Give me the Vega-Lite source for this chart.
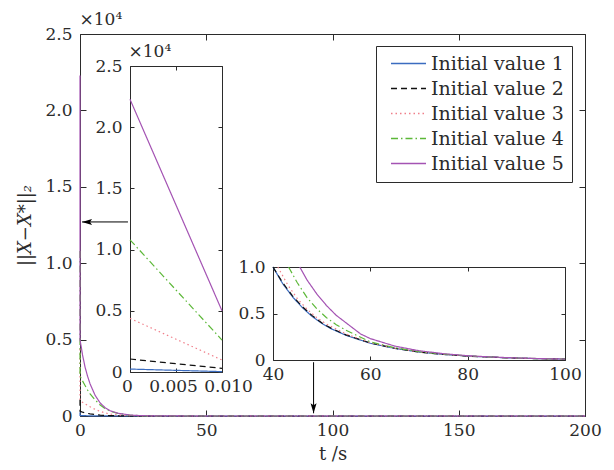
{
  "$schema": "https://vega.github.io/schema/vega-lite/v6.json",
  "width": 505,
  "height": 382,
  "autosize": {"type": "none"},
  "padding": {"left": 80, "top": 34, "right": 29, "bottom": 54},
  "background": "white",
  "config": {
    "view": {"stroke": null},
    "font": "DejaVu Serif",
    "axis": {
      "grid": false,
      "domainColor": "#2b2b2b",
      "tickColor": "#2b2b2b",
      "labelColor": "#2b2b2b",
      "labelFont": "DejaVu Serif",
      "labelFontSize": 17,
      "labelFlush": false,
      "labelOverlap": false,
      "titleFont": "DejaVu Serif",
      "titleFontSize": 18,
      "titleFontWeight": "normal",
      "titleColor": "#2b2b2b",
      "tickWidth": 1,
      "domainWidth": 1
    }
  },
  "datasets": {
    "main": [
      {"series": "Initial value 1", "t": 0, "v": 240}, {"series": "Initial value 1", "t": 0.01, "v": 30}, {"series": "Initial value 1", "t": 1, "v": 25}, {"series": "Initial value 1", "t": 2, "v": 20}, {"series": "Initial value 1", "t": 3, "v": 16}, {"series": "Initial value 1", "t": 4, "v": 13}, {"series": "Initial value 1", "t": 6, "v": 9}, {"series": "Initial value 1", "t": 8, "v": 6}, {"series": "Initial value 1", "t": 10, "v": 4}, {"series": "Initial value 1", "t": 12, "v": 3}, {"series": "Initial value 1", "t": 15, "v": 2}, {"series": "Initial value 1", "t": 20, "v": 1.5}, {"series": "Initial value 1", "t": 25, "v": 1.2}, {"series": "Initial value 1", "t": 30, "v": 1.1}, {"series": "Initial value 1", "t": 40, "v": 1}, {"series": "Initial value 1", "t": 60, "v": 0.2}, {"series": "Initial value 1", "t": 100, "v": 0.01}, {"series": "Initial value 1", "t": 200, "v": 0},
      {"series": "Initial value 2", "t": 0, "v": 1060}, {"series": "Initial value 2", "t": 0.01, "v": 300}, {"series": "Initial value 2", "t": 1, "v": 250}, {"series": "Initial value 2", "t": 2, "v": 205}, {"series": "Initial value 2", "t": 3, "v": 170}, {"series": "Initial value 2", "t": 4, "v": 140}, {"series": "Initial value 2", "t": 6, "v": 95}, {"series": "Initial value 2", "t": 8, "v": 62}, {"series": "Initial value 2", "t": 10, "v": 40}, {"series": "Initial value 2", "t": 12, "v": 26}, {"series": "Initial value 2", "t": 15, "v": 14}, {"series": "Initial value 2", "t": 20, "v": 5}, {"series": "Initial value 2", "t": 25, "v": 2.2}, {"series": "Initial value 2", "t": 30, "v": 1.5}, {"series": "Initial value 2", "t": 40, "v": 1}, {"series": "Initial value 2", "t": 60, "v": 0.2}, {"series": "Initial value 2", "t": 100, "v": 0.01}, {"series": "Initial value 2", "t": 200, "v": 0},
      {"series": "Initial value 3", "t": 0, "v": 4380}, {"series": "Initial value 3", "t": 0.01, "v": 980}, {"series": "Initial value 3", "t": 1, "v": 900}, {"series": "Initial value 3", "t": 2, "v": 800}, {"series": "Initial value 3", "t": 3, "v": 700}, {"series": "Initial value 3", "t": 4, "v": 600}, {"series": "Initial value 3", "t": 6, "v": 430}, {"series": "Initial value 3", "t": 8, "v": 300}, {"series": "Initial value 3", "t": 10, "v": 200}, {"series": "Initial value 3", "t": 12, "v": 130}, {"series": "Initial value 3", "t": 15, "v": 65}, {"series": "Initial value 3", "t": 20, "v": 20}, {"series": "Initial value 3", "t": 25, "v": 6}, {"series": "Initial value 3", "t": 30, "v": 2.5}, {"series": "Initial value 3", "t": 40, "v": 1.05}, {"series": "Initial value 3", "t": 60, "v": 0.2}, {"series": "Initial value 3", "t": 100, "v": 0.01}, {"series": "Initial value 3", "t": 200, "v": 0},
      {"series": "Initial value 4", "t": 0, "v": 10800}, {"series": "Initial value 4", "t": 0.01, "v": 2610}, {"series": "Initial value 4", "t": 1, "v": 2300}, {"series": "Initial value 4", "t": 2, "v": 2000}, {"series": "Initial value 4", "t": 3, "v": 1700}, {"series": "Initial value 4", "t": 4, "v": 1450}, {"series": "Initial value 4", "t": 6, "v": 1050}, {"series": "Initial value 4", "t": 8, "v": 720}, {"series": "Initial value 4", "t": 10, "v": 480}, {"series": "Initial value 4", "t": 12, "v": 320}, {"series": "Initial value 4", "t": 15, "v": 170}, {"series": "Initial value 4", "t": 20, "v": 50}, {"series": "Initial value 4", "t": 25, "v": 15}, {"series": "Initial value 4", "t": 30, "v": 6}, {"series": "Initial value 4", "t": 40, "v": 1.2}, {"series": "Initial value 4", "t": 60, "v": 0.2}, {"series": "Initial value 4", "t": 100, "v": 0.01}, {"series": "Initial value 4", "t": 200, "v": 0},
      {"series": "Initial value 5", "t": 0, "v": 22280}, {"series": "Initial value 5", "t": 0.01, "v": 5000}, {"series": "Initial value 5", "t": 1, "v": 4000}, {"series": "Initial value 5", "t": 2, "v": 3200}, {"series": "Initial value 5", "t": 3, "v": 2600}, {"series": "Initial value 5", "t": 4, "v": 2100}, {"series": "Initial value 5", "t": 6, "v": 1350}, {"series": "Initial value 5", "t": 8, "v": 850}, {"series": "Initial value 5", "t": 10, "v": 540}, {"series": "Initial value 5", "t": 12, "v": 340}, {"series": "Initial value 5", "t": 15, "v": 180}, {"series": "Initial value 5", "t": 20, "v": 60}, {"series": "Initial value 5", "t": 25, "v": 20}, {"series": "Initial value 5", "t": 30, "v": 8}, {"series": "Initial value 5", "t": 40, "v": 1.6}, {"series": "Initial value 5", "t": 60, "v": 0.23}, {"series": "Initial value 5", "t": 100, "v": 0.01}, {"series": "Initial value 5", "t": 200, "v": 0}
    ],
    "early": [
      {"series": "Initial value 1", "t": 0, "v": 240}, {"series": "Initial value 1", "t": 0.005, "v": 135}, {"series": "Initial value 1", "t": 0.01, "v": 30},
      {"series": "Initial value 2", "t": 0, "v": 1060}, {"series": "Initial value 2", "t": 0.005, "v": 680}, {"series": "Initial value 2", "t": 0.01, "v": 300},
      {"series": "Initial value 3", "t": 0, "v": 4380}, {"series": "Initial value 3", "t": 0.005, "v": 2680}, {"series": "Initial value 3", "t": 0.01, "v": 980},
      {"series": "Initial value 4", "t": 0, "v": 10800}, {"series": "Initial value 4", "t": 0.005, "v": 6700}, {"series": "Initial value 4", "t": 0.01, "v": 2610},
      {"series": "Initial value 5", "t": 0, "v": 22280}, {"series": "Initial value 5", "t": 0.005, "v": 13640}, {"series": "Initial value 5", "t": 0.01, "v": 5000}
    ],
    "late": [
      {"series": "Initial value 1", "t": 40, "v": 1.0}, {"series": "Initial value 1", "t": 42, "v": 0.82}, {"series": "Initial value 1", "t": 44, "v": 0.68}, {"series": "Initial value 1", "t": 46, "v": 0.565}, {"series": "Initial value 1", "t": 48, "v": 0.47}, {"series": "Initial value 1", "t": 50, "v": 0.395}, {"series": "Initial value 1", "t": 52, "v": 0.335}, {"series": "Initial value 1", "t": 55, "v": 0.265}, {"series": "Initial value 1", "t": 60, "v": 0.18}, {"series": "Initial value 1", "t": 65, "v": 0.125}, {"series": "Initial value 1", "t": 70, "v": 0.085}, {"series": "Initial value 1", "t": 75, "v": 0.06}, {"series": "Initial value 1", "t": 80, "v": 0.042}, {"series": "Initial value 1", "t": 85, "v": 0.03}, {"series": "Initial value 1", "t": 90, "v": 0.02}, {"series": "Initial value 1", "t": 95, "v": 0.014}, {"series": "Initial value 1", "t": 100, "v": 0.01},
      {"series": "Initial value 2", "t": 40, "v": 1.0}, {"series": "Initial value 2", "t": 42, "v": 0.83}, {"series": "Initial value 2", "t": 44, "v": 0.69}, {"series": "Initial value 2", "t": 46, "v": 0.575}, {"series": "Initial value 2", "t": 48, "v": 0.48}, {"series": "Initial value 2", "t": 50, "v": 0.4}, {"series": "Initial value 2", "t": 52, "v": 0.34}, {"series": "Initial value 2", "t": 55, "v": 0.27}, {"series": "Initial value 2", "t": 60, "v": 0.183}, {"series": "Initial value 2", "t": 65, "v": 0.126}, {"series": "Initial value 2", "t": 70, "v": 0.086}, {"series": "Initial value 2", "t": 75, "v": 0.06}, {"series": "Initial value 2", "t": 80, "v": 0.042}, {"series": "Initial value 2", "t": 85, "v": 0.03}, {"series": "Initial value 2", "t": 90, "v": 0.02}, {"series": "Initial value 2", "t": 95, "v": 0.014}, {"series": "Initial value 2", "t": 100, "v": 0.01},
      {"series": "Initial value 3", "t": 41, "v": 1.0}, {"series": "Initial value 3", "t": 43, "v": 0.81}, {"series": "Initial value 3", "t": 45, "v": 0.66}, {"series": "Initial value 3", "t": 47, "v": 0.545}, {"series": "Initial value 3", "t": 49, "v": 0.455}, {"series": "Initial value 3", "t": 51, "v": 0.385}, {"series": "Initial value 3", "t": 55, "v": 0.28}, {"series": "Initial value 3", "t": 60, "v": 0.185}, {"series": "Initial value 3", "t": 65, "v": 0.128}, {"series": "Initial value 3", "t": 70, "v": 0.087}, {"series": "Initial value 3", "t": 75, "v": 0.061}, {"series": "Initial value 3", "t": 80, "v": 0.043}, {"series": "Initial value 3", "t": 85, "v": 0.03}, {"series": "Initial value 3", "t": 90, "v": 0.02}, {"series": "Initial value 3", "t": 95, "v": 0.014}, {"series": "Initial value 3", "t": 100, "v": 0.01},
      {"series": "Initial value 4", "t": 43.2, "v": 1.0}, {"series": "Initial value 4", "t": 45, "v": 0.83}, {"series": "Initial value 4", "t": 47, "v": 0.67}, {"series": "Initial value 4", "t": 49, "v": 0.55}, {"series": "Initial value 4", "t": 51, "v": 0.455}, {"series": "Initial value 4", "t": 53, "v": 0.38}, {"series": "Initial value 4", "t": 55, "v": 0.32}, {"series": "Initial value 4", "t": 60, "v": 0.195}, {"series": "Initial value 4", "t": 65, "v": 0.132}, {"series": "Initial value 4", "t": 70, "v": 0.09}, {"series": "Initial value 4", "t": 75, "v": 0.063}, {"series": "Initial value 4", "t": 80, "v": 0.044}, {"series": "Initial value 4", "t": 85, "v": 0.031}, {"series": "Initial value 4", "t": 90, "v": 0.021}, {"series": "Initial value 4", "t": 95, "v": 0.014}, {"series": "Initial value 4", "t": 100, "v": 0.01},
      {"series": "Initial value 5", "t": 45.5, "v": 1.0}, {"series": "Initial value 5", "t": 47, "v": 0.86}, {"series": "Initial value 5", "t": 49, "v": 0.71}, {"series": "Initial value 5", "t": 51, "v": 0.585}, {"series": "Initial value 5", "t": 53, "v": 0.48}, {"series": "Initial value 5", "t": 55, "v": 0.4}, {"series": "Initial value 5", "t": 58, "v": 0.28}, {"series": "Initial value 5", "t": 60, "v": 0.23}, {"series": "Initial value 5", "t": 65, "v": 0.15}, {"series": "Initial value 5", "t": 70, "v": 0.1}, {"series": "Initial value 5", "t": 75, "v": 0.068}, {"series": "Initial value 5", "t": 80, "v": 0.046}, {"series": "Initial value 5", "t": 85, "v": 0.032}, {"series": "Initial value 5", "t": 90, "v": 0.022}, {"series": "Initial value 5", "t": 95, "v": 0.015}, {"series": "Initial value 5", "t": 100, "v": 0.01}
    ],
    "arrows": [
      {"head": "left", "tFrom": 19, "tTo": 0.8, "vFrom": 12700, "vTo": 12700},
      {"head": "down", "tFrom": 92.5, "tTo": 92.5, "vFrom": 3520, "vTo": 177}
    ]
  },
  "layer": [
    {
      "layer": [
        {
          "data": {"name": "main"},
          "mark": {"type": "line", "strokeWidth": 1.2},
          "encoding": {
            "x": {"field": "t", "type": "quantitative", "scale": {"domain": [0, 200], "nice": false, "zero": false},
              "axis": {"orient": "bottom", "values": [0, 50, 100, 150, 200], "format": "d", "tickSize": -6, "labelPadding": 12, "title": "t /s", "titlePadding": 7}},
            "y": {"field": "v", "type": "quantitative", "scale": {"domain": [0, 25000], "nice": false},
              "axis": {"orient": "left", "values": [0, 5000, 10000, 15000, 20000, 25000], "labelExpr": "datum.value == 0 ? '0' : format(datum.value / 10000, '.1f')", "tickSize": -6, "labelPadding": 14, "title": "||X−X*||₂", "titleFontStyle": "italic", "titlePadding": 10}},
            "color": {"field": "series", "type": "nominal",
              "scale": {"domain": ["Initial value 1", "Initial value 2", "Initial value 3", "Initial value 4", "Initial value 5"], "range": ["#3b6cc0", "#111111", "#f07f8a", "#5cb838", "#a453b3"]},
              "legend": {"title": null, "orient": "none", "legendX": 296, "legendY": 12, "symbolType": "M-3.5,0H3.5", "symbolSize": 100, "symbolStrokeWidth": 1.5, "symbolOffset": 15, "labelOffset": 13, "labelFontSize": 19, "labelFont": "DejaVu Serif", "labelColor": "#2b2b2b", "rowPadding": 5, "padding": 8, "strokeColor": "#2b2b2b", "fillColor": "white"}},
            "strokeDash": {"field": "series", "type": "nominal",
              "scale": {"domain": ["Initial value 1", "Initial value 2", "Initial value 3", "Initial value 4", "Initial value 5"], "range": [[1, 0], [6, 4], [1.5, 3], [7, 3, 1.5, 3], [1, 0]]},
              "legend": {"title": null, "orient": "none", "legendX": 296, "legendY": 12, "symbolType": "M-3.5,0H3.5", "symbolSize": 100, "symbolStrokeWidth": 1.5, "symbolOffset": 15, "labelOffset": 13, "labelFontSize": 19, "labelFont": "DejaVu Serif", "labelColor": "#2b2b2b", "rowPadding": 5, "padding": 8, "strokeColor": "#2b2b2b", "fillColor": "white"}}
          }
        },
        {
          "data": {"name": "main"},
          "mark": {"type": "point", "opacity": 0},
          "encoding": {
            "x": {"field": "t", "type": "quantitative",
              "axis": {"orient": "top", "values": [0, 50, 100, 150, 200], "tickSize": -6, "labels": false, "title": "×10⁴", "titleX": -1, "titleY": -10, "titleAlign": "left", "titleBaseline": "alphabetic", "titleFontSize": 17}},
            "y": {"field": "v", "type": "quantitative",
              "axis": {"orient": "right", "values": [0, 5000, 10000, 15000, 20000, 25000], "tickSize": -6, "labels": false, "title": null}}
          }
        },
        {
          "data": {"name": "arrows"},
          "mark": {"type": "rule", "color": "black", "strokeWidth": 1},
          "encoding": {
            "x": {"field": "tFrom", "type": "quantitative", "axis": null},
            "x2": {"field": "tTo"},
            "y": {"field": "vFrom", "type": "quantitative", "axis": null},
            "y2": {"field": "vTo"}
          }
        },
        {
          "data": {"name": "arrows"},
          "mark": {"type": "point", "filled": true, "color": "black", "opacity": 1, "size": 100, "strokeWidth": 0},
          "encoding": {
            "x": {"field": "tTo", "type": "quantitative", "axis": null},
            "y": {"field": "vTo", "type": "quantitative", "axis": null},
            "shape": {"field": "head", "type": "nominal", "legend": null,
              "scale": {"domain": ["left", "down"], "range": ["M0,0L2,-0.6L1.6,0L2,0.6Z", "M0,0L-0.6,-2L0,-1.6L0.6,-2Z"]}}
          }
        }
      ],
      "resolve": {"axis": {"x": "independent", "y": "independent"}}
    },
    {
      "layer": [
        {
          "data": {"name": "early"},
          "mark": {"type": "line", "strokeWidth": 1.2},
          "encoding": {
            "x": {"field": "t", "type": "quantitative", "scale": {"domain": [0, 0.01], "range": [50, 142], "nice": false, "zero": false},
              "axis": {"orient": "bottom", "offset": -44, "values": [0, 0.005, 0.01], "labelExpr": "datum.value == 0 ? '0' : format(datum.value, '.3f')", "labelOffset": {"condition": {"test": "datum.value > 0.008", "value": 6}, "value": -3}, "tickSize": -4, "labelPadding": 10, "title": null}},
            "y": {"field": "v", "type": "quantitative", "scale": {"domain": [0, 25000], "range": [338, 32], "nice": false},
              "axis": {"orient": "left", "offset": -50, "values": [0, 5000, 10000, 15000, 20000, 25000], "labelExpr": "datum.value == 0 ? '0' : format(datum.value / 10000, '.1f')", "tickSize": -4, "labelPadding": 12, "title": null}},
            "color": {"field": "series", "type": "nominal",
              "scale": {"domain": ["Initial value 1", "Initial value 2", "Initial value 3", "Initial value 4", "Initial value 5"], "range": ["#3b6cc0", "#111111", "#f07f8a", "#5cb838", "#a453b3"]},
              "legend": {"title": null, "orient": "none", "legendX": 296, "legendY": 12, "symbolType": "M-3.5,0H3.5", "symbolSize": 100, "symbolStrokeWidth": 1.5, "symbolOffset": 15, "labelOffset": 13, "labelFontSize": 19, "labelFont": "DejaVu Serif", "labelColor": "#2b2b2b", "rowPadding": 5, "padding": 8, "strokeColor": "#2b2b2b", "fillColor": "white"}},
            "strokeDash": {"field": "series", "type": "nominal",
              "scale": {"domain": ["Initial value 1", "Initial value 2", "Initial value 3", "Initial value 4", "Initial value 5"], "range": [[1, 0], [6, 4], [1.5, 3], [7, 3, 1.5, 3], [1, 0]]},
              "legend": {"title": null, "orient": "none", "legendX": 296, "legendY": 12, "symbolType": "M-3.5,0H3.5", "symbolSize": 100, "symbolStrokeWidth": 1.5, "symbolOffset": 15, "labelOffset": 13, "labelFontSize": 19, "labelFont": "DejaVu Serif", "labelColor": "#2b2b2b", "rowPadding": 5, "padding": 8, "strokeColor": "#2b2b2b", "fillColor": "white"}}
          }
        },
        {
          "data": {"name": "early"},
          "mark": {"type": "point", "opacity": 0},
          "encoding": {
            "x": {"field": "t", "type": "quantitative",
              "axis": {"orient": "top", "offset": -32, "values": [0, 0.005, 0.01], "tickSize": -4, "labels": false, "title": "×10⁴", "titleX": 48, "titleY": -10, "titleAlign": "left", "titleBaseline": "alphabetic", "titleFontSize": 17}},
            "y": {"field": "v", "type": "quantitative",
              "axis": {"orient": "right", "offset": -363, "values": [0, 5000, 10000, 15000, 20000, 25000], "tickSize": -4, "labels": false, "title": null}}
          }
        }
      ],
      "resolve": {"axis": {"x": "independent", "y": "independent"}}
    },
    {
      "layer": [
        {
          "data": {"name": "late"},
          "mark": {"type": "line", "strokeWidth": 1.2},
          "encoding": {
            "x": {"field": "t", "type": "quantitative", "scale": {"domain": [40, 100], "range": [193, 485], "nice": false, "zero": false},
              "axis": {"orient": "bottom", "offset": -56, "values": [40, 60, 80, 100], "format": "d", "tickSize": -4, "labelPadding": 10, "title": null}},
            "y": {"field": "v", "type": "quantitative", "scale": {"domain": [0, 1], "range": [326, 233], "nice": false},
              "axis": {"orient": "left", "offset": -193, "values": [0, 0.5, 1], "labelExpr": "datum.value == 0 ? '0' : format(datum.value, '.1f')", "tickSize": -4, "labelPadding": 12, "title": null}},
            "color": {"field": "series", "type": "nominal",
              "scale": {"domain": ["Initial value 1", "Initial value 2", "Initial value 3", "Initial value 4", "Initial value 5"], "range": ["#3b6cc0", "#111111", "#f07f8a", "#5cb838", "#a453b3"]},
              "legend": {"title": null, "orient": "none", "legendX": 296, "legendY": 12, "symbolType": "M-3.5,0H3.5", "symbolSize": 100, "symbolStrokeWidth": 1.5, "symbolOffset": 15, "labelOffset": 13, "labelFontSize": 19, "labelFont": "DejaVu Serif", "labelColor": "#2b2b2b", "rowPadding": 5, "padding": 8, "strokeColor": "#2b2b2b", "fillColor": "white"}},
            "strokeDash": {"field": "series", "type": "nominal",
              "scale": {"domain": ["Initial value 1", "Initial value 2", "Initial value 3", "Initial value 4", "Initial value 5"], "range": [[1, 0], [6, 4], [1.5, 3], [7, 3, 1.5, 3], [1, 0]]},
              "legend": {"title": null, "orient": "none", "legendX": 296, "legendY": 12, "symbolType": "M-3.5,0H3.5", "symbolSize": 100, "symbolStrokeWidth": 1.5, "symbolOffset": 15, "labelOffset": 13, "labelFontSize": 19, "labelFont": "DejaVu Serif", "labelColor": "#2b2b2b", "rowPadding": 5, "padding": 8, "strokeColor": "#2b2b2b", "fillColor": "white"}}
          }
        },
        {
          "data": {"name": "late"},
          "mark": {"type": "point", "opacity": 0},
          "encoding": {
            "x": {"field": "t", "type": "quantitative",
              "axis": {"orient": "top", "offset": -233, "values": [40, 60, 80, 100], "tickSize": -4, "labels": false, "title": null}},
            "y": {"field": "v", "type": "quantitative",
              "axis": {"orient": "right", "offset": -20, "values": [0, 0.5, 1], "tickSize": -4, "labels": false, "title": null}}
          }
        }
      ],
      "resolve": {"axis": {"x": "independent", "y": "independent"}}
    }
  ],
  "resolve": {"scale": {"x": "independent", "y": "independent"}, "axis": {"x": "independent", "y": "independent"}}
}
